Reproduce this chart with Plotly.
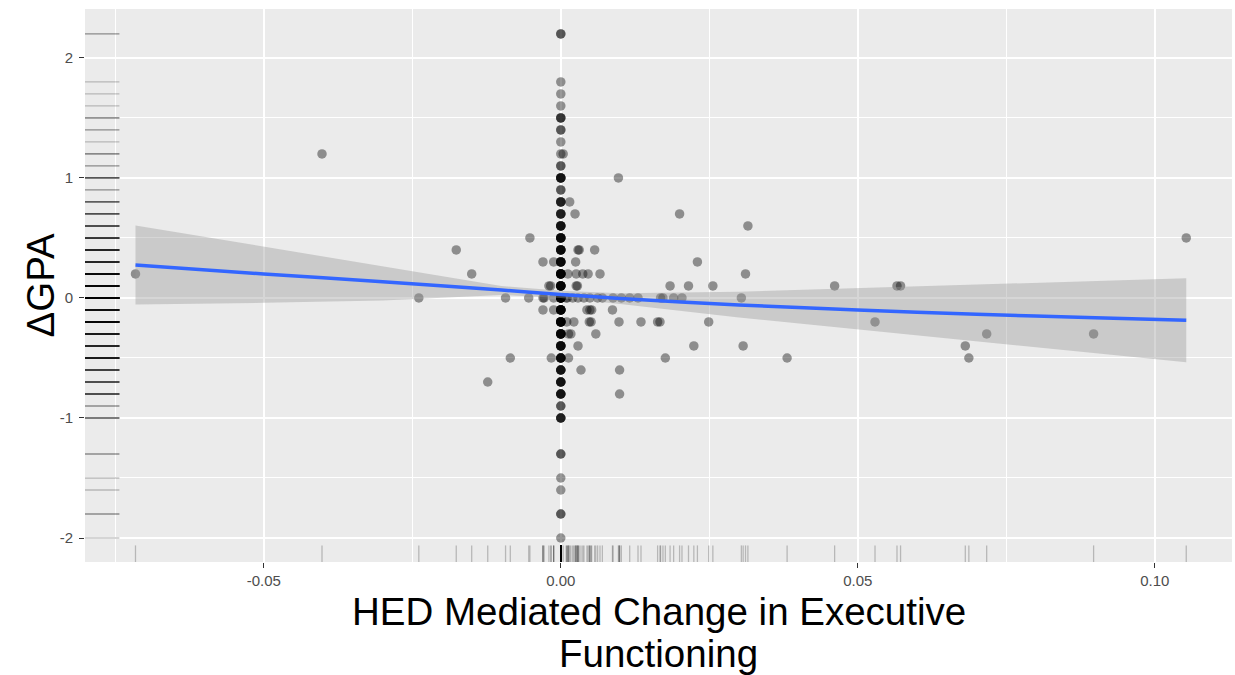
import plotly.graph_objects as go

# ---- data ----
# points sitting exactly at x = 0 : GPA change value and how many points share it
zero_y = [2.2, 1.8, 1.7, 1.6, 1.5, 1.4, 1.3, 1.2, 1.1, 1.0, 0.9, 0.8, 0.7, 0.6, 0.5, 0.4,
          0.3, 0.2, 0.1, 0.0, -0.1, -0.2, -0.3, -0.4, -0.5, -0.6, -0.7, -0.8, -0.9, -1.0,
          -1.3, -1.5, -1.6, -1.8, -2.0]
zero_n = [2, 1, 1, 1, 3, 2, 1, 1, 2, 5, 2, 4, 4, 5, 6, 6,
          6, 8, 8, 10, 8, 8, 7, 6, 6, 5, 5, 5, 2, 4,
          2, 1, 1, 2, 1]

# remaining points (HED mediated change in EF, GPA change)
off_x = [-0.0716, -0.0402, -0.0239, -0.0176, -0.0150, -0.0123, -0.0093, -0.0085, -0.0054, -0.0052,
         -0.0030, -0.0012, -0.0030, -0.0028, -0.0012, -0.0017, -0.0020, -0.0030, -0.0012, -0.0016,
         0.0004, 0.0015, 0.0024, 0.0029, 0.0031, 0.0057, 0.0025,
         0.0012, 0.0026, 0.0037, 0.0046, 0.0066,
         0.0026, 0.0028,
         0.0009, 0.0011, 0.0020, 0.0029, 0.0039, 0.0049, 0.0062, 0.0070, 0.0088, 0.0102,
         0.0116, 0.0130, 0.0168, 0.0172, 0.0190, 0.0204, 0.0304,
         0.0044, 0.0049, 0.0052, 0.0087,
         0.0010, 0.0022, 0.0048, 0.0051, 0.0098, 0.0135, 0.0163, 0.0167, 0.0249, 0.0529,
         0.0013, 0.0017, 0.0059, 0.0717, 0.0897,
         0.0029, 0.0224, 0.0307, 0.0681,
         0.0013, 0.0176, 0.0381, 0.0687,
         0.0034, 0.0099, 0.0099,
         0.0097, 0.0200, 0.0315, 0.1053, 0.0230, 0.0311,
         0.0184, 0.0215, 0.0256, 0.0461, 0.0566, 0.0572]
off_y = [0.2, 1.2, 0.0, 0.4, 0.2, -0.7, 0.0, -0.5, 0.0, 0.5,
         0.3, 0.3, 0.0, 0.0, 0.0, 0.1, 0.1, -0.1, -0.1, -0.5,
         1.2, 0.8, 0.7, 0.4, 0.4, 0.4, 0.3,
         0.2, 0.2, 0.2, 0.2, 0.2,
         0.1, 0.1,
         0.0, 0.0, 0.0, 0.0, 0.0, 0.0, 0.0, 0.0, 0.0, 0.0,
         0.0, 0.0, 0.0, 0.0, 0.0, 0.0, 0.0,
         -0.1, -0.1, -0.1, -0.1,
         -0.2, -0.2, -0.2, -0.2, -0.2, -0.2, -0.2, -0.2, -0.2, -0.2,
         -0.3, -0.3, -0.3, -0.3, -0.3,
         -0.4, -0.4, -0.4, -0.4,
         -0.5, -0.5, -0.5, -0.5,
         -0.6, -0.6, -0.8,
         1.0, 0.7, 0.6, 0.5, 0.3, 0.2,
         0.1, 0.1, 0.1, 0.1, 0.1, 0.1]

# smoother (fitted curve and its confidence band)
fit_x = [-0.0716, -0.05, -0.03, -0.01, 0.0, 0.01, 0.03, 0.05, 0.07, 0.09, 0.1053]
fit_y = [0.275, 0.200, 0.135, 0.066, 0.030, -0.005, -0.058, -0.100, -0.135, -0.165, -0.186]
fit_hi = [0.605, 0.427, 0.262, 0.100, 0.060, 0.040, 0.052, 0.083, 0.111, 0.139, 0.164]
fit_lo = [-0.055, -0.040, -0.020, 0.025, 0.000, -0.050, -0.163, -0.262, -0.360, -0.460, -0.536]

x_ticks = [-0.05, 0.0, 0.05, 0.10]
x_labels = ["-0.05", "0.00", "0.05", "0.10"]
x_minor = [-0.075, -0.025, 0.025, 0.075]
y_ticks = [-2, -1, 0, 1, 2]
y_labels = ["-2", "-1", "0", "1", "2"]
y_minor = [-1.5, -0.5, 0.5, 1.5]

# ---- assemble ----
xs, ys = [], []
for yv, n in zip(zero_y, zero_n):
    xs += [0.0] * n
    ys += [yv] * n
xs += off_x
ys += off_y

FONT = "Liberation Sans, Arial, Helvetica, sans-serif"

fig = go.Figure()
fig.add_trace(go.Scatter(
    x=xs, y=ys, mode="markers",
    marker=dict(size=9.5, color="rgba(0,0,0,0.4)", line=dict(width=0)),
    hoverinfo="skip", showlegend=False))
fig.add_trace(go.Scatter(
    x=fit_x + fit_x[::-1], y=fit_hi + fit_lo[::-1],
    fill="toself", fillcolor="rgba(153,153,153,0.4)", line=dict(width=0),
    mode="lines", hoverinfo="skip", showlegend=False))
fig.add_trace(go.Scatter(
    x=fit_x, y=fit_y, mode="lines", line=dict(color="#3366FF", width=3.5, shape="spline", smoothing=0.6),
    hoverinfo="skip", showlegend=False))

shapes = []
rug_line = dict(color="rgba(0,0,0,0.22)", width=1.3)
for xv in xs:
    shapes.append(dict(type="line", xref="x", yref="y domain", x0=xv, x1=xv, y0=0, y1=0.03,
                       line=rug_line, layer="above"))
for yv in ys:
    shapes.append(dict(type="line", xref="x domain", yref="y", x0=0, x1=0.03, y0=yv, y1=yv,
                       line=rug_line, layer="above"))

axis_common = dict(
    showgrid=True, gridcolor="white", gridwidth=1.6, zeroline=False,
    ticks="outside", ticklen=5, tickwidth=1.4, tickcolor="#333333",
    tickfont=dict(family=FONT, size=15, color="#4D4D4D"),
    showline=False,
)
fig.update_xaxes(range=[-0.0801, 0.1130], tickmode="array", tickvals=x_ticks, ticktext=x_labels,
                 minor=dict(tickmode="array", tickvals=x_minor, showgrid=True, gridcolor="white",
                            gridwidth=0.8, ticks=""),
                 **axis_common)
fig.update_yaxes(range=[-2.2, 2.408], tickmode="array", tickvals=y_ticks, ticktext=y_labels,
                 minor=dict(tickmode="array", tickvals=y_minor, showgrid=True, gridcolor="white",
                            gridwidth=0.8, ticks=""),
                 ticklabelstandoff=3,
                 **axis_common)

TITLE_SIZE = 38.5
fig.update_layout(
    width=1235, height=675,
    margin=dict(l=85, r=3, t=9, b=113),
    paper_bgcolor="white", plot_bgcolor="#EBEBEB",
    shapes=shapes,
    annotations=[
        dict(text="HED Mediated Change in Executive", xref="paper", yref="paper",
             x=0.5, y=-0.0904, xanchor="center", yanchor="middle", showarrow=False,
             font=dict(family=FONT, size=TITLE_SIZE, color="black")),
        dict(text="Functioning", xref="paper", yref="paper",
             x=0.5, y=-0.1646, xanchor="center", yanchor="middle", showarrow=False,
             font=dict(family=FONT, size=TITLE_SIZE, color="black")),
        dict(text="ΔGPA", xref="paper", yref="paper", x=-0.0392, y=0.5,
             xanchor="center", yanchor="middle", textangle=-90, showarrow=False,
             font=dict(family=FONT, size=TITLE_SIZE, color="black")),
    ],
)

fig.write_html(
    "out.html",
    config={"displayModeBar": False},
    post_script="document.body.style.margin='0';document.body.style.overflow='hidden';",
)
